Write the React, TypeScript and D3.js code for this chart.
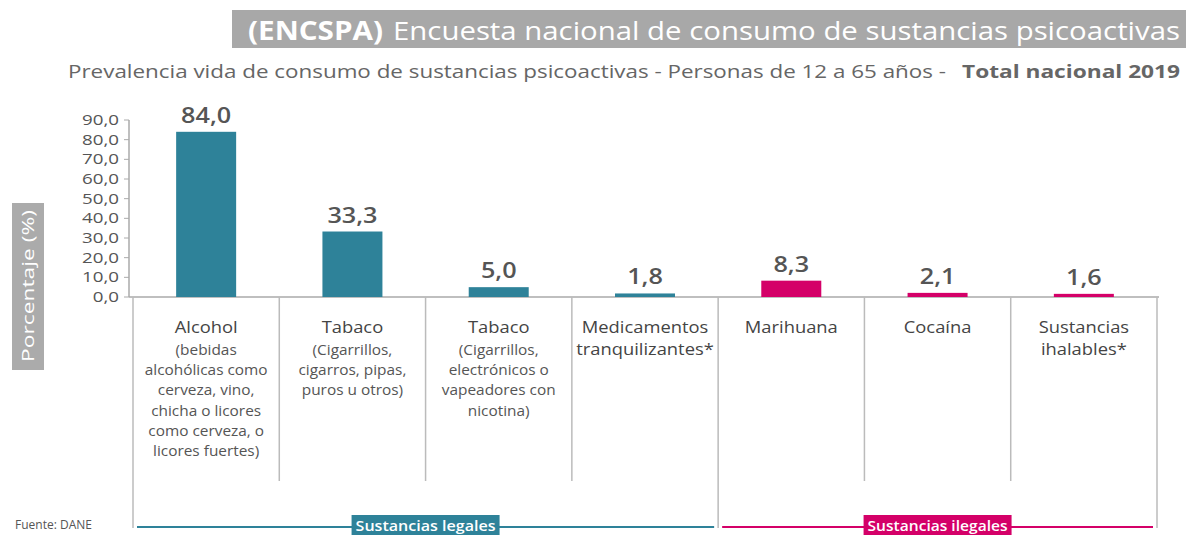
import React from "react";
import * as d3 from "d3";

const categories = ["Alcohol", "Tabaco", "Tabaco", "Medicamentos tranquilizantes*", "Marihuana", "Cocaína", "Sustancias ihalables*"];
const mainLines: string[][] = [["Alcohol"], ["Tabaco"], ["Tabaco"], ["Medicamentos", "tranquilizantes*"], ["Marihuana"], ["Cocaína"], ["Sustancias", "ihalables*"]];
const subLines: string[][] = [
  ["(bebidas", "alcohólicas como", "cerveza, vino,", "chicha o licores", "como cerveza, o", "licores fuertes)"],
  ["(Cigarrillos,", "cigarros, pipas,", "puros u otros)"],
  ["(Cigarrillos,", "electrónicos o", "vapeadores con", "nicotina)"],
  [], [], [], [],
];
const values = [84.0, 33.3, 5.0, 1.8, 8.3, 2.1, 1.6];
const groups = ["legal", "legal", "legal", "legal", "ilegal", "ilegal", "ilegal"];
const groupNames = ["Sustancias legales", "Sustancias ilegales"];
const yTicks = [0, 10, 20, 30, 40, 50, 60, 70, 80, 90];

const TEAL = "#2e8299";
const PINK = "#d40068";
const FONT = "'Open Sans', sans-serif";

function SText(props: { x: number; y: number; s: number; anchor?: string; fill: string; size: number; weight?: number; children: React.ReactNode }) {
  const { x, y, s, anchor = "middle", fill, size, weight = 400, children } = props;
  return (
    <text transform={`translate(${x},${y}) scale(${s},1)`} textAnchor={anchor} fill={fill} fontSize={size} fontWeight={weight}>
      {children}
    </text>
  );
}

export default function App() {
  const W = 1186, H = 535;
  const x = d3.scaleBand<number>().domain(d3.range(categories.length)).range([133, 1157]).padding(0);
  const y = d3.scaleLinear().domain([0, 90]).range([297, 120]);
  const bw = x.bandwidth();
  const barW = 60;
  const fmt = (v: number) => d3.format(".1f")(v).replace(".", ",");
  const color = (g: string) => (g === "legal" ? TEAL : PINK);
  const legalEnd = x(4)!;
  const groupSpans = [
    { name: groupNames[0], x0: 133, x1: legalEnd, c: TEAL },
    { name: groupNames[1], x0: legalEnd, x1: 1157, c: PINK },
  ];

  return (
    <svg width={W} height={H} style={{ display: "block", position: "absolute", left: 0, top: 0 }} fontFamily={FONT}>
      {/* title */}
      <rect x={232} y={10} width={954} height={38} fill="#a8a8a8" />
      <text x={248} y={40} fill="#fff" fontSize={26} fontWeight={700} textLength={135} lengthAdjust="spacingAndGlyphs">(ENCSPA)</text>
      <text x={393} y={40} fill="#fff" fontSize={26} textLength={787} lengthAdjust="spacingAndGlyphs">Encuesta nacional de consumo de sustancias psicoactivas</text>
      <text x={68} y={78} fill="#666" fontSize={18} textLength={878} lengthAdjust="spacingAndGlyphs">Prevalencia vida de consumo de sustancias psicoactivas - Personas de 12 a 65 años -</text>
      <text x={962} y={78} fill="#666" fontSize={18} fontWeight={700} textLength={218} lengthAdjust="spacingAndGlyphs">Total nacional 2019</text>

      {/* y title */}
      <rect x={12} y={203} width={32} height={167} fill="#ababab" />
      <text transform={`translate(34,${362}) rotate(-90)`} textAnchor="start" fill="#fff" fontSize={15.5} textLength={152} lengthAdjust="spacingAndGlyphs">
        Porcentaje (%)
      </text>

      {/* y axis */}
      <line x1={129} x2={129} y1={y(90)} y2={y(0)} stroke="#aaa" strokeWidth={1.5} />
      {yTicks.map((t) => (
        <g key={t}>
          <line x1={124} x2={129} y1={y(t)} y2={y(t)} stroke="#aaa" />
          <SText x={119} y={y(t) + 5} s={1.25} anchor="end" fill="#555" size={15}>{fmt(t)}</SText>
        </g>
      ))}
      <line x1={129} x2={1159} y1={y(0)} y2={y(0)} stroke="#aaa" strokeWidth={1.5} />

      {/* category dividers */}
      {d3.range(categories.length + 1).map((i) => {
        const xx = i < categories.length ? x(i)! : 1157;
        const long = i === 0 || i === 4 || i === categories.length;
        return <line key={i} x1={xx} x2={xx} y1={y(0)} y2={long ? 528 : 481} stroke="#bbb" strokeWidth={1.5} />;
      })}

      {/* bars */}
      {values.map((v, i) => {
        const cx = x(i)! + bw / 2;
        return (
          <g key={i}>
            <rect x={cx - barW / 2} y={y(v)} width={barW} height={y(0) - y(v)} fill={color(groups[i])} />
            <SText x={cx} y={y(v) - 9} s={1.2} fill="#555" size={21} weight={600}>{fmt(v)}</SText>
          </g>
        );
      })}

      {/* category labels */}
      {categories.map((c, i) => {
        const cx = x(i)! + bw / 2;
        const ml = mainLines[i];
        return (
          <g key={i}>
            {ml.map((s, j) => (
              <SText key={"m" + j} x={cx} y={333 + j * 22} s={1.08} fill="#444" size={17}>{s}</SText>
            ))}
            {subLines[i].map((s, j) => (
              <SText key={"s" + j} x={cx} y={355 + j * 20.2} s={1.1} fill="#555" size={14}>{s}</SText>
            ))}
          </g>
        );
      })}

      {/* group brackets */}
      {groupSpans.map((g, i) => {
        const cx = (g.x0 + g.x1) / 2;
        return (
          <g key={i}>
            <line x1={g.x0 + 4} x2={g.x1 - 4} y1={527} y2={527} stroke={g.c} strokeWidth={2} />
            <rect x={cx - 74} y={515} width={148} height={22} fill={g.c} />
            <text x={cx - 70} y={531} fill="#fff" fontSize={14} fontWeight={600} textLength={140} lengthAdjust="spacingAndGlyphs">{g.name}</text>
          </g>
        );
      })}

      <text x={15} y={529} fill="#555" fontSize={12}>Fuente: DANE</text>
    </svg>
  );
}
